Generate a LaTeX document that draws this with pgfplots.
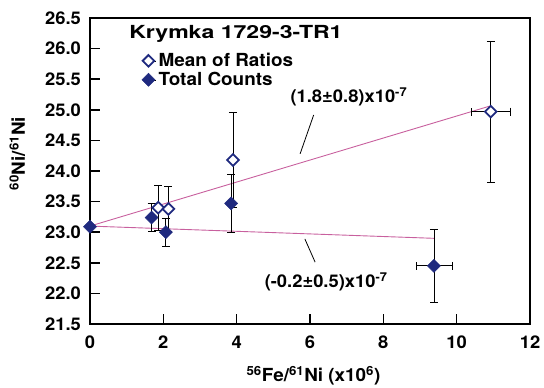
\documentclass[border=0pt]{standalone}
\usepackage{fontspec}
\setmainfont{TeX Gyre Heros}[FakeStretch=1.05]
\usepackage{pgfplots}
\usepackage{pgfplotstable}
\pgfplotsset{compat=1.18}
\definecolor{navy}{HTML}{1F2A7F}
\definecolor{fitpink}{HTML}{C8609E}
\pgfplotstableread{
x y ex ey
0.00 23.09 0.00 0.00
1.68 23.24 0.00 0.23
2.07 23.00 0.00 0.23
3.85 23.47 0.00 0.48
9.38 22.45 0.49 0.60
}\totalcounts
\pgfplotstableread{
x y ex ey
1.86 23.40 0.00 0.37
2.14 23.38 0.00 0.37
3.90 24.18 0.00 0.77
10.93 24.97 0.54 1.15
}\meanratios
\begin{document}
\begin{tikzpicture}[x=1pt,y=1pt]
\fontsize{17.5}{21}\selectfont\bfseries
\begin{axis}[
  at={(0,0)}, anchor=south west,
  scale only axis, width=440pt, height=306pt,
  xmin=0, xmax=12, ymin=21.5, ymax=26.5,
  xtick={0,2,...,12}, ytick={21.5,22,...,26.5},
  axis line style={line width=1.6pt},
  tick style={line width=1.6pt, black},
  major tick length=10pt, tick align=inside,
  xtick pos=bottom, ytick pos=left,
  /pgf/number format/assume math mode=true,
  yticklabel style={/pgf/number format/fixed, /pgf/number format/fixed zerofill, /pgf/number format/precision=1, xshift=-3pt},
  xticklabel style={/pgf/number format/fixed, /pgf/number format/precision=0, yshift=-6pt},
  ticklabel style={font=\fontsize{17.5}{21}\selectfont\bfseries},
  xlabel={\textsuperscript{56}Fe/\textsuperscript{61}Ni (x10\textsuperscript{6})},
  ylabel={\textsuperscript{60}Ni/\textsuperscript{61}Ni},
  label style={font=\fontsize{18}{21}\selectfont\bfseries},
  xlabel style={at={(axis description cs:0.508,-0.170)}, anchor=center},
  ylabel style={at={(axis description cs:-0.165,0.557)}, anchor=center},
  reverse legend,
  legend style={draw=none, fill=none, at={(axis cs:1.33,26.0)}, anchor=north west,
    font=\fontsize{18}{20}\selectfont\bfseries, row sep=-1pt,
    legend cell align=left},
  legend image code/.code={\path (-5pt,0pt) -- (8pt,0pt); \draw[#1] plot coordinates {(0pt,0pt)};},
  clip=false,
]
% fit lines
\addplot[fitpink, line width=0.9pt, forget plot] coordinates {(0,23.1) (10.9,25.06)};
\addplot[fitpink, line width=0.9pt, forget plot] coordinates {(0,23.1) (9.38,22.90)};
% open error bars only
\addplot[only marks, mark=none, forget plot,
  error bars/.cd, y dir=both, y explicit, x dir=both, x explicit,
  error bar style={draw=black, line width=0.8pt},
  error mark options={draw=black, line width=0.8pt, mark size=4pt, rotate=90}]
  table[x=x, y=y, x error=ex, y error=ey] {\meanratios};
% total counts
\addplot[only marks, mark=square*, mark size=4.6pt,
  mark options={rotate=45, fill=navy, draw=navy, line width=0.5pt},
  error bars/.cd, y dir=both, y explicit, x dir=both, x explicit,
  error bar style={draw=black, line width=0.8pt},
  error mark options={draw=black, line width=0.8pt, mark size=4pt, rotate=90}]
  table[x=x, y=y, x error=ex, y error=ey] {\totalcounts};
% mean of ratios markers
\addplot[only marks, mark=square*, mark size=4.1pt,
  mark options={rotate=45, fill=white, draw=navy, line width=1.8pt}]
  table[x=x, y=y] {\meanratios};
\legend{Total Counts, Mean of Ratios}
% annotations
\draw[black, line width=0.8pt] (axis cs:6.10,24.915) -- (axis cs:5.73,24.28);
\draw[black, line width=0.8pt] (axis cs:5.86,22.89) -- (axis cs:6.14,22.51);
\node[font=\fontsize{17.5}{21}\selectfont\bfseries] at (axis cs:7.06,25.21) {(1.8\textpm0.8)x10\textsuperscript{-7}};
\node[font=\fontsize{17.5}{21}\selectfont\bfseries] at (axis cs:6.44,22.19) {(-0.2\textpm0.5)x10\textsuperscript{-7}};
\node[font=\fontsize{18}{20}\selectfont\bfseries, anchor=west, transform shape, xscale=1.22] at (axis cs:0.87,26.24) {Krymka 1729-3-TR1};
\end{axis}
\pgfresetboundingbox
\path (-90,-64) rectangle (454,324);
\end{tikzpicture}
\end{document}
